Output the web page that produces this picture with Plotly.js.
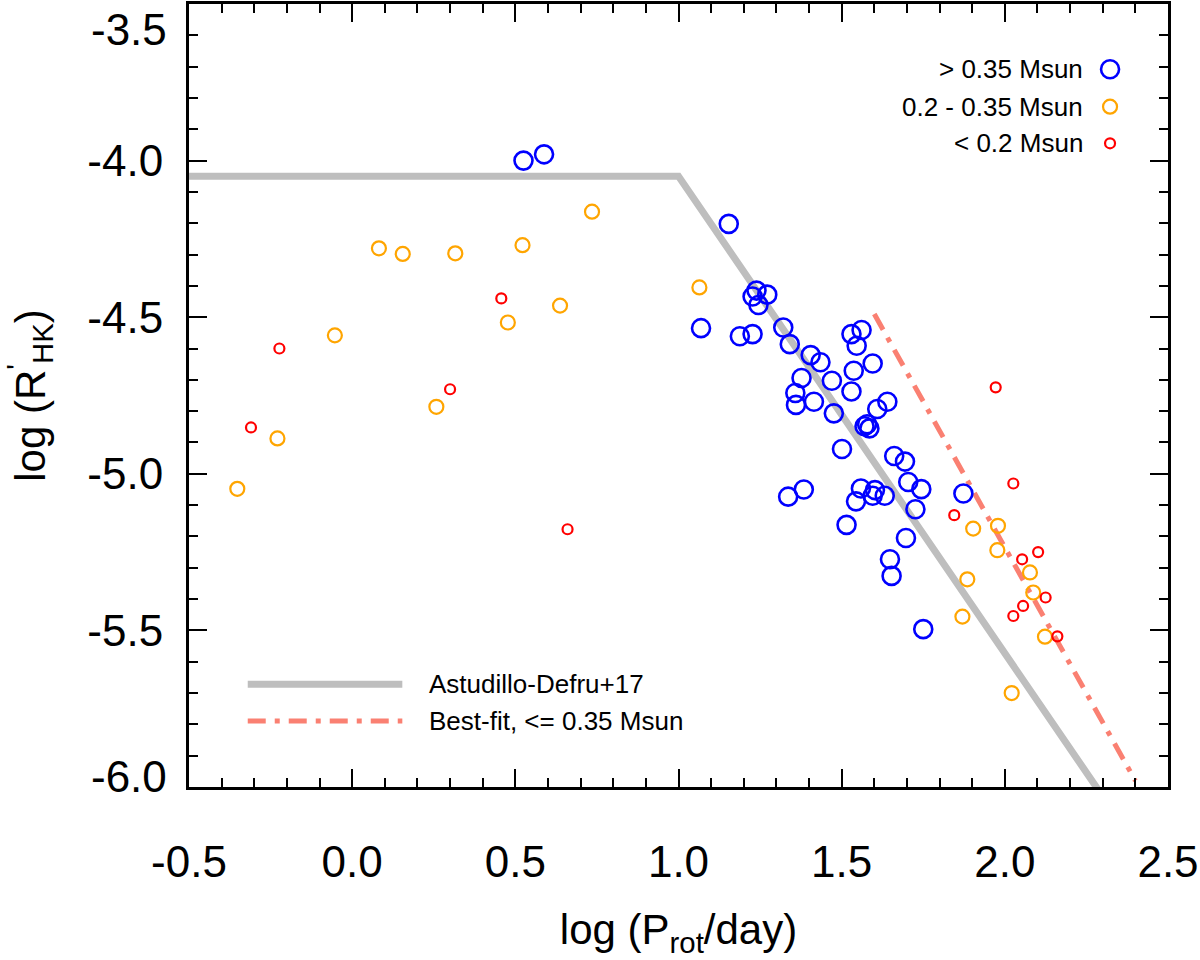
<!DOCTYPE html>
<html>
<head>
<meta charset="utf-8">
<title>log R'HK vs log Prot</title>
<script src="https://cdn.plot.ly/plotly-3.0.1.min.js"></script>
<style>
  html, body { margin: 0; padding: 0; background: #ffffff; }
  #chart { width: 1200px; height: 960px; }
</style>
</head>
<body>
<div id="chart"></div>
<script>
(function () {
  'use strict';

  // Stars with mass > 0.35 Msun
  var highMassLogP = [0.525, 0.588, 1.154, 1.069, 1.239, 1.227, 1.272, 1.245, 1.188, 1.227,
    1.321, 1.341, 1.405, 1.435, 1.377, 1.470, 1.358, 1.360, 1.415, 1.476,
    1.530, 1.561, 1.546, 1.595, 1.537, 1.530, 1.640, 1.609, 1.570, 1.578,
    1.585, 1.501, 1.661, 1.694, 1.704, 1.744, 1.726, 1.873, 1.336, 1.384,
    1.559, 1.544, 1.602, 1.595, 1.632, 1.515, 1.697, 1.648, 1.653, 1.750];
  var highMassLogR = [-4.000, -3.980, -4.202, -4.535, -4.415, -4.434, -4.428, -4.461, -4.561, -4.554,
    -4.533, -4.586, -4.621, -4.644, -4.694, -4.703, -4.742, -4.780, -4.770, -4.807,
    -4.554, -4.541, -4.591, -4.648, -4.671, -4.737, -4.770, -4.793, -4.848, -4.842,
    -4.855, -4.921, -4.943, -4.961, -5.026, -5.049, -5.113, -5.063, -5.073, -5.050,
    -5.047, -5.088, -5.052, -5.070, -5.070, -5.163, -5.205, -5.273, -5.326, -5.496];

  // Stars with 0.2 - 0.35 Msun
  var midMassLogP = [0.735, 0.082, 0.155, 0.316, 0.522, 0.637, 0.477, -0.053, 0.258, -0.229,
    -0.352, 1.064, 1.903, 1.885, 1.870, 1.979, 1.977, 2.077, 2.087, 2.123, 2.021];
  var midMassLogR = [-4.163, -4.280, -4.298, -4.296, -4.270, -4.463, -4.517, -4.558, -4.786, -4.887,
    -5.048, -4.405, -5.175, -5.337, -5.456, -5.166, -5.244, -5.315, -5.379, -5.520, -5.700];

  // Stars with mass < 0.2 Msun
  var lowMassLogP = [0.457, -0.223, 0.300, -0.310, 0.660, 1.845, 1.972, 2.026, 2.053, 2.102,
    2.125, 2.056, 2.026, 2.161];
  var lowMassLogR = [-4.440, -4.600, -4.730, -4.852, -5.177, -5.132, -4.724, -5.031, -5.273, -5.250,
    -5.395, -5.422, -5.454, -5.519];

  // Relations
  var astudilloLogP = [-0.5, 1.0, 2.3];
  var astudilloLogR = [-4.05, -4.05, -6.03];
  var bestFitLogP = [1.6, 2.4];
  var bestFitLogR = [-4.49, -5.98];

  // Tick labels (plain hyphen, as in the original figure)
  var xTickVals = [-0.5, 0.0, 0.5, 1.0, 1.5, 2.0, 2.5];
  var xTickText = ['-0.5', '0.0', '0.5', '1.0', '1.5', '2.0', '2.5'];
  var yTickVals = [-5.5, -5.0, -4.5, -4.0];
  var yTickText = ['-5.5', '-5.0', '-4.5', '-4.0'];

  var FONT = 'Liberation Sans, Arial, Helvetica, sans-serif';
  var GREY = '#bebebe';
  var SALMON = '#fa8072';
  var BLUE = '#0000ff';
  var ORANGE = '#ffa500';
  var RED = '#ff0000';
  var DASHDOT = '18px,9px,5px,9px';

  var groups = [
    { name: '> 0.35 Msun', x: highMassLogP, y: highMassLogR, color: BLUE, size: 18, width: 2.6 },
    { name: '0.2 - 0.35 Msun', x: midMassLogP, y: midMassLogR, color: ORANGE, size: 14, width: 2.2 },
    { name: '< 0.2 Msun', x: lowMassLogP, y: lowMassLogR, color: RED, size: 10, width: 2.2 }
  ];

  var traces = [
    {
      type: 'scatter', mode: 'lines', name: 'Astudillo-Defru+17',
      x: astudilloLogP, y: astudilloLogR,
      line: { color: GREY, width: 7 }
    },
    {
      type: 'scatter', mode: 'lines', name: 'Best-fit, <= 0.35 Msun',
      x: bestFitLogP, y: bestFitLogR,
      line: { color: SALMON, width: 5, dash: DASHDOT }
    }
  ];

  groups.forEach(function (g) {
    traces.push({
      type: 'scatter', mode: 'markers', name: g.name,
      x: g.x, y: g.y,
      marker: {
        symbol: 'circle-open', size: g.size, color: g.color,
        line: { color: g.color, width: g.width }
      }
    });
  });

  // Hand-drawn legends (symbols right of labels, line samples at lower left)
  var shapes = [];
  var annotations = [];
  var legendY = [0.9166, 0.8689, 0.8221];

  groups.forEach(function (g, i) {
    var r = g.size / 2;
    shapes.push({
      type: 'circle', xref: 'paper', yref: 'paper',
      xsizemode: 'pixel', ysizemode: 'pixel',
      xanchor: 0.9408, yanchor: legendY[i],
      x0: -r, x1: r, y0: -r, y1: r,
      line: { color: g.color, width: g.width }
    });
    annotations.push({
      xref: 'paper', yref: 'paper', x: 0.9152, y: legendY[i],
      xanchor: 'right', yanchor: 'middle', showarrow: false,
      text: g.name, font: { family: FONT, size: 26, color: '#000' }
    });
  });

  shapes.push({
    type: 'line', xref: 'paper', yref: 'paper',
    x0: 0.060, x1: 0.2179, y0: 0.1312, y1: 0.1312,
    line: { color: GREY, width: 7 }
  });
  shapes.push({
    type: 'line', xref: 'paper', yref: 'paper',
    x0: 0.060, x1: 0.2179, y0: 0.0843, y1: 0.0843,
    line: { color: SALMON, width: 5, dash: DASHDOT }
  });
  annotations.push({
    xref: 'paper', yref: 'paper', x: 0.2428, y: 0.1312,
    xanchor: 'left', yanchor: 'middle', showarrow: false,
    text: 'Astudillo-Defru+17', font: { family: FONT, size: 26, color: '#000' }
  });
  annotations.push({
    xref: 'paper', yref: 'paper', x: 0.2428, y: 0.0843,
    xanchor: 'left', yanchor: 'middle', showarrow: false,
    text: 'Best-fit, <= 0.35 Msun', font: { family: FONT, size: 26, color: '#000' }
  });

  // End labels of the y axis sit slightly inside the frame
  annotations.push({
    xref: 'paper', yref: 'y', x: 0, y: -3.5, xshift: -20, yshift: -25,
    xanchor: 'right', yanchor: 'middle', showarrow: false,
    text: '-3.5', font: { family: FONT, size: 44, color: '#000' }
  });
  annotations.push({
    xref: 'paper', yref: 'y', x: 0, y: -6.0, xshift: -20, yshift: 11,
    xanchor: 'right', yanchor: 'middle', showarrow: false,
    text: '-6.0', font: { family: FONT, size: 44, color: '#000' }
  });

  var axisBase = {
    showgrid: false, zeroline: false,
    showline: true, linecolor: '#000', linewidth: 3, mirror: 'allticks',
    ticks: 'inside', ticklen: 18, tickwidth: 2, tickcolor: '#000',
    tickfont: { family: FONT, size: 44, color: '#000' },
    minor: { tick0: 0, dtick: 0.1, ticks: 'inside', ticklen: 9, tickwidth: 2, tickcolor: '#000' }
  };

  var layout = {
    width: 1200, height: 960,
    paper_bgcolor: '#ffffff', plot_bgcolor: '#ffffff',
    font: { family: FONT, color: '#000' },
    margin: { l: 189, r: 32, t: 4, b: 173 },
    showlegend: false,
    xaxis: Object.assign({}, axisBase, {
      range: [-0.5, 2.5],
      tickmode: 'array', tickvals: xTickVals, ticktext: xTickText,
      ticklabelstandoff: 34,
      title: { text: 'log (P<sub>rot</sub>/day)', font: { family: FONT, size: 42 }, standoff: 30 }
    }),
    yaxis: Object.assign({}, axisBase, {
      range: [-6.0, -3.5],
      tickmode: 'array', tickvals: yTickVals, ticktext: yTickText,
      ticklabelstandoff: 14,
      title: { text: "log (R<sup>'</sup><sub>HK</sub>)", font: { family: FONT, size: 42 }, standoff: 30 }
    }),
    shapes: shapes,
    annotations: annotations
  };

  Plotly.newPlot('chart', traces, layout, { displayModeBar: false, staticPlot: true });
})();
</script>
</body>
</html>
